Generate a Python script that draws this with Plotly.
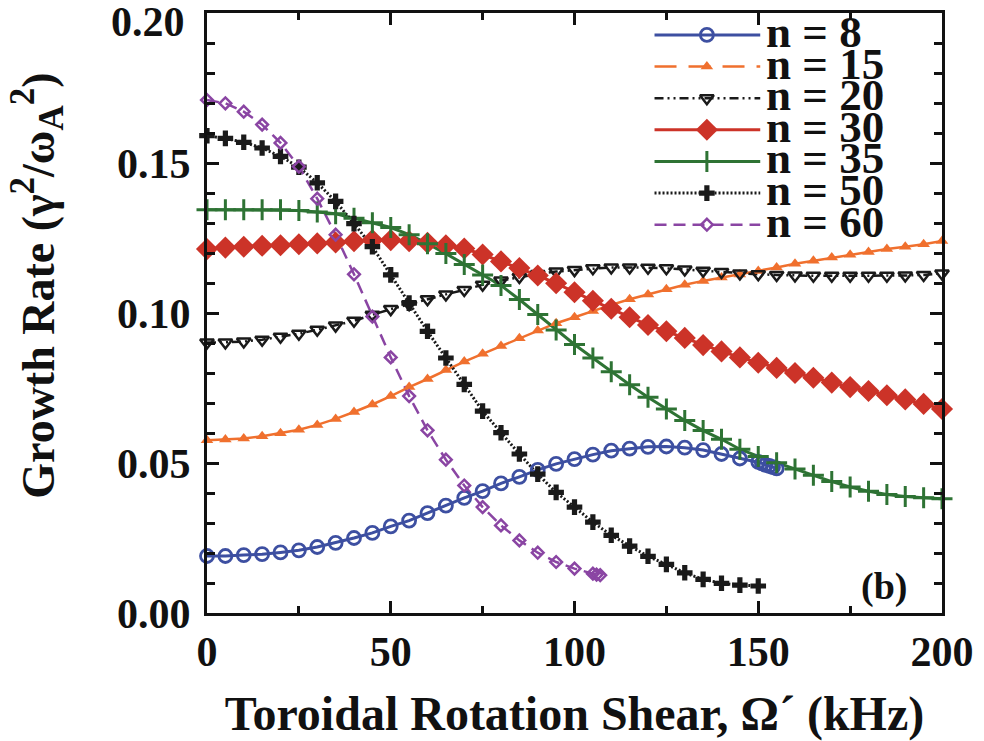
import plotly.graph_objects as go

# ---------------- data ----------------
x_n8 = [0, 5, 10, 15, 20, 25, 30, 35, 40, 45, 50, 55, 60, 65, 70, 75, 80, 85, 90, 95, 100, 105,
        110, 115, 120, 125, 130, 135, 140, 145, 150, 151, 152, 153, 154, 155]
y_n8 = [0.0190, 0.0190, 0.0193, 0.0196, 0.0202, 0.0209, 0.0220, 0.0234, 0.0250, 0.0267, 0.0289,
        0.0308, 0.0333, 0.0358, 0.0384, 0.0406, 0.0432, 0.0454, 0.0477, 0.0497, 0.0513, 0.0528,
        0.0541, 0.0548, 0.0554, 0.0555, 0.0551, 0.0543, 0.0530, 0.0515, 0.0504, 0.0499, 0.0494,
        0.0490, 0.0486, 0.0482]

x_5 = list(range(0, 201, 5))
y_n15 = [0.0576, 0.0578, 0.0582, 0.0589, 0.0599, 0.0611, 0.0627, 0.0647, 0.0670, 0.0695, 0.0723,
         0.0753, 0.0780, 0.0810, 0.0838, 0.0864, 0.0890, 0.0916, 0.0942, 0.0966, 0.0986, 0.1007,
         0.1027, 0.1046, 0.1062, 0.1079, 0.1094, 0.1107, 0.1118, 0.1128, 0.1140, 0.1152, 0.1164,
         0.1174, 0.1185, 0.1194, 0.1203, 0.1213, 0.1221, 0.1229, 0.1240]
y_n20 = [0.0902, 0.0902, 0.0905, 0.0911, 0.0921, 0.0931, 0.0944, 0.0958, 0.0974, 0.0994, 0.1013,
         0.1029, 0.1046, 0.1062, 0.1077, 0.1094, 0.1108, 0.1120, 0.1130, 0.1138, 0.1143, 0.1149,
         0.1152, 0.1152, 0.1151, 0.1149, 0.1145, 0.1141, 0.1137, 0.1132, 0.1129, 0.1127, 0.1125,
         0.1124, 0.1124, 0.1124, 0.1124, 0.1124, 0.1125, 0.1127, 0.1132]
y_n30 = [0.1213, 0.1218, 0.1221, 0.1224, 0.1226, 0.1229, 0.1232, 0.1235, 0.1239, 0.1243, 0.1243,
         0.1239, 0.1234, 0.1226, 0.1215, 0.1195, 0.1172, 0.1150, 0.1125, 0.1099, 0.1069, 0.1041,
         0.1014, 0.0986, 0.0960, 0.0939, 0.0917, 0.0893, 0.0872, 0.0852, 0.0834, 0.0817, 0.0800,
         0.0784, 0.0768, 0.0753, 0.0740, 0.0726, 0.0712, 0.0697, 0.0680]
y_n35 = [0.1344, 0.1344, 0.1344, 0.1344, 0.1344, 0.1342, 0.1337, 0.1331, 0.1316, 0.1301, 0.1285,
         0.1261, 0.1231, 0.1198, 0.1162, 0.1127, 0.1092, 0.1045, 0.0995, 0.0943, 0.0895, 0.0850,
         0.0804, 0.0761, 0.0719, 0.0680, 0.0642, 0.0608, 0.0579, 0.0546, 0.0522, 0.0501, 0.0480,
         0.0459, 0.0438, 0.0420, 0.0406, 0.0395, 0.0388, 0.0384, 0.0381]

x_n50 = list(range(0, 151, 5))
y_n50 = [0.1591, 0.1582, 0.1569, 0.1550, 0.1522, 0.1486, 0.1434, 0.1372, 0.1298, 0.1221, 0.1127,
         0.1033, 0.0939, 0.0850, 0.0762, 0.0673, 0.0601, 0.0530, 0.0463, 0.0402, 0.0353, 0.0303,
         0.0259, 0.0223, 0.0189, 0.0162, 0.0134, 0.0112, 0.0099, 0.0093, 0.0090]

x_n60 = [0, 5, 10, 15, 20, 25, 30, 35, 40, 45, 50, 55, 60, 65, 70, 75, 80, 85, 90, 95, 100, 105, 106, 107]
y_n60 = [0.1710, 0.1699, 0.1671, 0.1628, 0.1567, 0.1488, 0.1381, 0.1261, 0.1129, 0.0988, 0.0852,
         0.0723, 0.0609, 0.0511, 0.0425, 0.0353, 0.0292, 0.0242, 0.0201, 0.0170, 0.0148, 0.0131,
         0.0128, 0.0126]

x_ticks = [0, 50, 100, 150, 200]
y_ticks = [0.00, 0.05, 0.10, 0.15]
legend_labels = ["n = 8", "n = 15", "n = 20", "n = 30", "n = 35", "n = 50", "n = 60"]

# ---------------- styles ----------------
BLUE = "#3d4fa1"
ORANGE = "#f0702e"
BLACK = "#1a1a1a"
RED = "#cc3328"
GREEN = "#2e7334"
PURPLE = "#8a45a3"
FONT = "Liberation Serif"

series = [
    dict(x=x_n8, y=y_n8, color=BLUE, dash="solid", ldash="solid", width=3,
         marker=dict(symbol="circle-open", size=13, line=dict(width=2.8, color=BLUE), color=BLUE)),
    dict(x=x_5, y=y_n15, color=ORANGE, dash="solid", ldash="22px,12px", width=2.5,
         marker=dict(symbol="triangle-up", size=11, color=ORANGE, line=dict(width=0))),
    dict(x=x_5, y=y_n20, color=BLACK, dash="9px,4px,2px,4px,2px,4px", ldash="9px,4px,2px,4px,2px,4px", width=2.5,
         marker=dict(symbol="triangle-down-open", size=12, color=BLACK, line=dict(width=2.5, color=BLACK))),
    dict(x=x_5, y=y_n30, color=RED, dash="solid", ldash="solid", width=3,
         marker=dict(symbol="diamond", size=17, color=RED, line=dict(width=0))),
    dict(x=x_5, y=y_n35, color=GREEN, dash="solid", ldash="solid", width=3,
         marker=dict(symbol="cross-thin-open", size=15, color=GREEN, line=dict(width=3, color=GREEN))),
    dict(x=x_n50, y=y_n50, color=BLACK, dash="2px,2px", ldash="2px,2px", width=3,
         marker=dict(symbol="cross", size=13, color=BLACK, line=dict(width=0))),
    dict(x=x_n60, y=y_n60, color=PURPLE, dash="12px,7px", ldash="12px,7px", width=2.5,
         marker=dict(symbol="diamond-open", size=9, color=PURPLE, line=dict(width=2.5, color=PURPLE))),
]

fig = go.Figure()

for s in series:
    fig.add_trace(go.Scatter(x=s["x"], y=s["y"], mode="lines",
                             line=dict(color=s["color"], width=s["width"], dash=s["dash"]),
                             showlegend=False, hoverinfo="skip", cliponaxis=False))
for s in series:
    fig.add_trace(go.Scatter(x=s["x"], y=s["y"], mode="markers", marker=dict(s["marker"]),
                             showlegend=False, cliponaxis=False))

# ---------------- custom legend (overlay axes in pixel units) ----------------
PL, PR, PT, PB = 207, 951, 10, 613
leg_x0, leg_xm, leg_x1, leg_text = 660, 713, 767, 771
leg_y0, leg_dy = 32, 31.8
for i, (s, lab) in enumerate(zip(series, legend_labels)):
    yy = leg_y0 + i * leg_dy
    fig.add_trace(go.Scatter(x=[leg_x0, leg_x1], y=[yy, yy], mode="lines",
                             line=dict(color=s["color"], width=s["width"], dash=s["ldash"]),
                             xaxis="x2", yaxis="y2", showlegend=False, hoverinfo="skip"))
    fig.add_trace(go.Scatter(x=[leg_xm], y=[yy], mode="markers", marker=dict(s["marker"]),
                             xaxis="x2", yaxis="y2", showlegend=False, hoverinfo="skip"))
    fig.add_annotation(x=leg_text, y=yy, xref="x2", yref="y2", text=lab, showarrow=False,
                       xanchor="left", yanchor="middle", yshift=3,
                       font=dict(family=FONT, size=45, color="#111", weight="bold"))

fig.add_annotation(x=0, y=0.2, xref="paper", yref="y", text="0.20", showarrow=False,
                   xanchor="right", yanchor="top", xshift=-20, yshift=16,
                   font=dict(family=FONT, size=42, color="#111", weight="bold"))
fig.add_annotation(x=892, y=586, xref="x2", yref="y2", text="(b)", showarrow=False,
                   xanchor="center", yanchor="middle",
                   font=dict(family=FONT, size=38, color="#111", weight="bold"))

SUP = '<sup><span style="font-size:35px">%s</span></sup>'
SUB = '<sub><span style="font-size:35px">%s</span></sub>'
ytitle = "Growth Rate (γ" + SUP % "2" + "/ω" + SUB % "A" + SUP % "2" + ")"
YT_X, YT_Y = 35, 284  # pixel centre of the rotated y title
fig.add_annotation(x=(YT_X - PL) / (PR - PL), y=(PB - YT_Y) / (PB - PT),
                   xref="paper", yref="paper", text=ytitle, showarrow=False,
                   textangle=-90, xanchor="center", yanchor="middle",
                   font=dict(family=FONT, size=46, color="#111", weight="bold"))

axis_common = dict(showline=True, linewidth=3, linecolor="#111", mirror="allticks",
                   ticks="inside", ticklen=12, tickwidth=2.5, tickcolor="#111",
                   showgrid=False, zeroline=False,
                   tickfont=dict(family=FONT, size=42, color="#111", weight="bold"))

fig.update_layout(
    width=984, height=741,
    margin=dict(l=PL, r=984 - PR, t=PT, b=741 - PB),
    paper_bgcolor="white", plot_bgcolor="white",
    showlegend=False,
    xaxis=dict(range=[0, 200], tickvals=x_ticks, ticktext=[str(v) for v in x_ticks],
               minor=dict(dtick=25, ticks="inside", ticklen=7, tickwidth=2.5, tickcolor="#111"),
               title=dict(text="Toroidal Rotation Shear, Ω´ (kHz)", standoff=22,
                          font=dict(family=FONT, size=48, color="#111", weight="bold")),
               **axis_common),
    yaxis=dict(range=[0, 0.2], tickvals=y_ticks, ticktext=["%.2f" % v for v in y_ticks],
               ticklabelstandoff=5,
               minor=dict(dtick=0.01, ticks="inside", ticklen=8, tickwidth=2.5, tickcolor="#111"),
               **axis_common),
    xaxis2=dict(range=[PL, PR], overlaying="x", visible=False, fixedrange=True),
    yaxis2=dict(range=[PB, PT], overlaying="y", visible=False, fixedrange=True),
)

fig.write_html("out.html")
